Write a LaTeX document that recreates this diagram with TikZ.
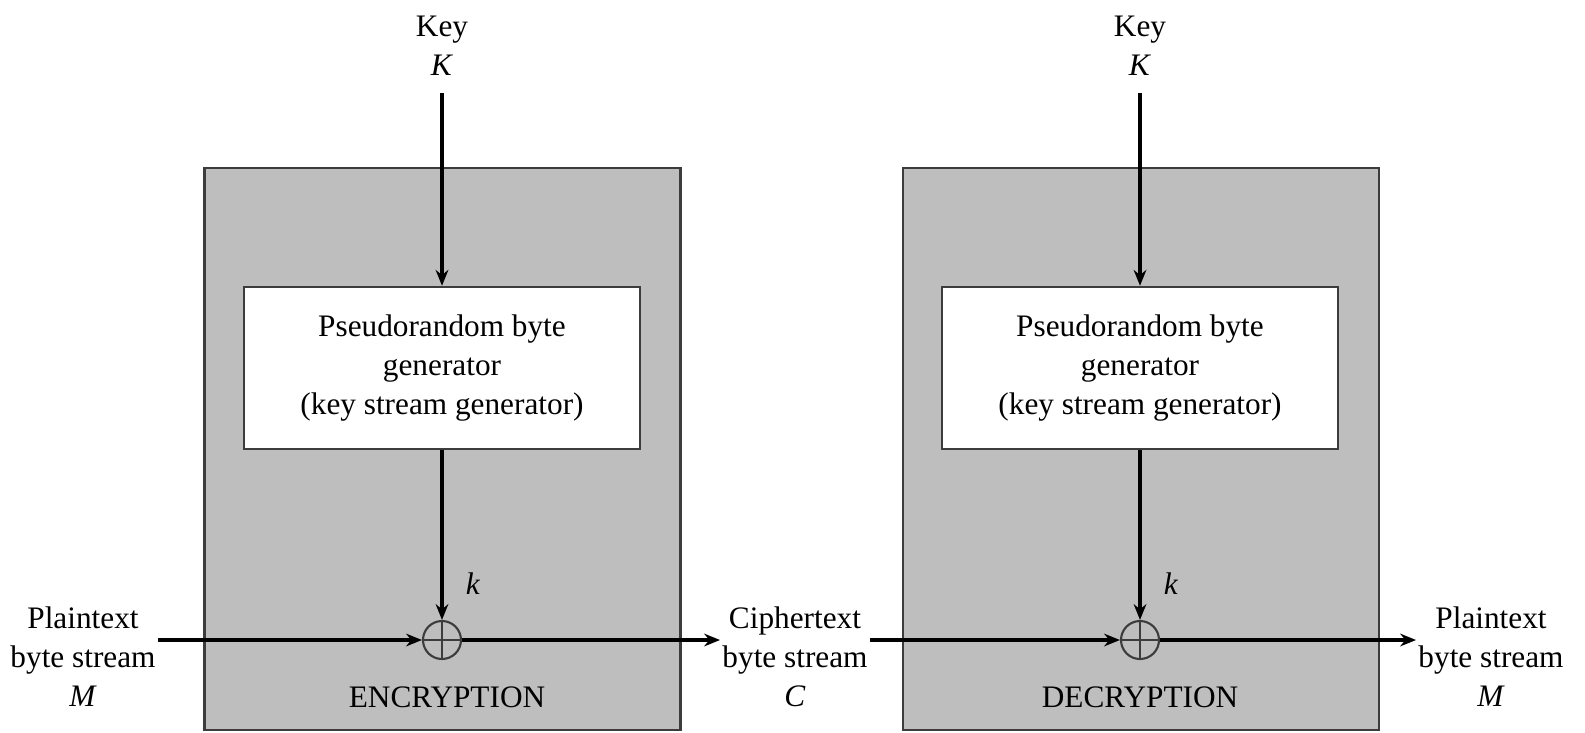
\documentclass[tikz,border=0pt]{standalone}
\usepackage{fontspec}
\setmainfont{Liberation Serif}
\usetikzlibrary{arrows.meta, positioning, calc}
\definecolor{boxgray}{RGB}{190, 190, 190}
\definecolor{edgegray}{RGB}{60, 60, 60}
\newcommand{\figfont}{\fontsize{8.9}{11.1}\selectfont}
\tikzset{
    outerbox/.style={rectangle, draw=edgegray, fill=boxgray, line width=0.7pt, minimum width=4.76cm, minimum height=5.62cm, inner sep=0pt},
    genbox/.style={rectangle, draw=edgegray, fill=white, line width=0.7pt, minimum width=3.96cm, minimum height=1.62cm, align=center, font=\figfont},
    xorop/.style={circle, draw=edgegray, line width=0.6pt, minimum size=0.38cm, inner sep=0pt},
    txt/.style={align=center, font=\figfont, inner sep=0.5pt},
    line/.style={draw, -{Stealth[length=4.5pt, width=3.6pt]}, line width=0.9pt}
}
\begin{document}
\begin{tikzpicture}
        \useasboundingbox (0,0) rectangle (15.85,7.32);
        % encryption side
        \node[outerbox] (encbox) at (4.425,2.83) {};
        \node[genbox] (gen1) at (4.42,3.64) {Pseudorandom byte\\generator\\(key stream generator)};
        \node[xorop] (xor1) at (4.42,0.92) {};
        \draw[edgegray, line width=0.6pt] (xor1.north) -- (xor1.south) (xor1.west) -- (xor1.east);
        \node[txt] (key1) at (4.42,6.86) {Key\\\textit{K}};
        \node[txt] (k1) at (4.73,1.48) {\textit{k}};
        \node[txt] (enc) at (4.47,0.35) {ENCRYPTION};
        
        % decryption side
        \node[outerbox] (decbox) at (11.41,2.83) {};
        \node[genbox] (gen2) at (11.40,3.64) {Pseudorandom byte\\generator\\(key stream generator)};
        \node[xorop] (xor2) at (11.40,0.92) {};
        \draw[edgegray, line width=0.6pt] (xor2.north) -- (xor2.south) (xor2.west) -- (xor2.east);
        \node[txt] (key2) at (11.40,6.86) {Key\\\textit{K}};
        \node[txt] (k2) at (11.71,1.48) {\textit{k}};
        \node[txt] (dec) at (11.40,0.35) {DECRYPTION};
        
        % streams
        \node[txt] (plainin) at (0.83,0.75) {Plaintext\\byte stream\\\textit{M}};
        \node[txt] (cipher) at (7.95,0.75) {Ciphertext\\byte stream\\\textit{C}};
        \node[txt] (plainout) at (14.91,0.75) {Plaintext\\byte stream\\\textit{M}};
        
        \draw[line, shorten <=0.15cm] (key1.south) -- (gen1.north);
        \draw[line] (gen1.south) -- (xor1.north);
        \draw[line] (plainin.east |- xor1) -- (xor1.west);
        \draw[line] (xor1.east) -- (cipher.west |- xor1);
        \draw[line, shorten <=0.15cm] (key2.south) -- (gen2.north);
        \draw[line] (gen2.south) -- (xor2.north);
        \draw[line] (cipher.east |- xor2) -- (xor2.west);
        \draw[line] (xor2.east) -- (plainout.west |- xor2);
    \end{tikzpicture}
\end{document}
